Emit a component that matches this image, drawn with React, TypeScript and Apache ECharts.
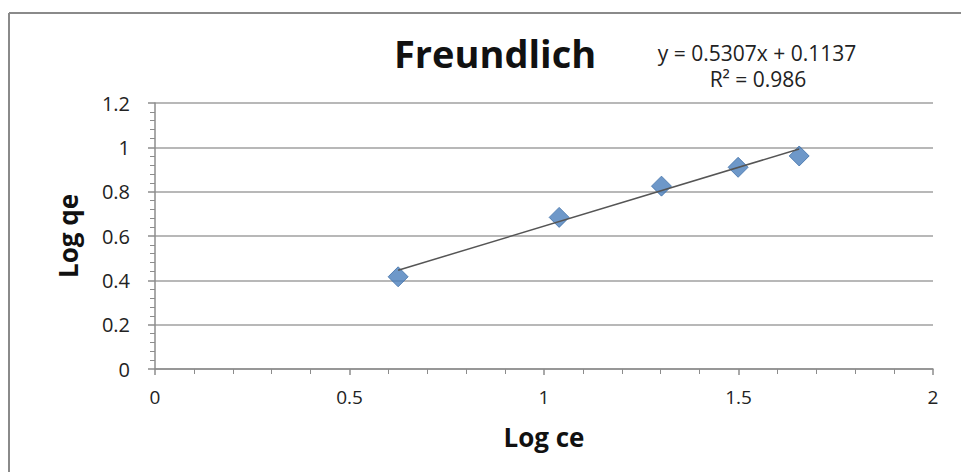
import React, { useEffect, useRef } from "react";
import * as echarts from "echarts";

// Freundlich isotherm: log Ce against log qe
const logCe: number[] = [0.625, 1.039, 1.302, 1.499, 1.656];
const logQe: number[] = [0.416, 0.684, 0.825, 0.91, 0.961];

// Linear trendline coefficients (as fitted)
const slope = 0.5307;
const intercept = 0.1137;
const rSquared = 0.986;

const xTicks = { min: 0, max: 2, interval: 0.5 };
const yTicks = { min: 0, max: 1.2, interval: 0.2 };

const FONT = "'Open Sans', 'Noto Sans', sans-serif";

export default function App() {
  const ref = useRef<HTMLDivElement>(null);

  useEffect(() => {
    if (!ref.current) return;
    const chart = echarts.init(ref.current, undefined, { renderer: "svg" });

    const xStart = Math.min(...logCe);
    const xEnd = Math.max(...logCe);
    const trend = [
      [xStart, slope * xStart + intercept],
      [xEnd, slope * xEnd + intercept],
    ];

    const axisGray = "#8c8c8c";

    chart.setOption({
      animation: false,
      backgroundColor: "#ffffff",
      grid: { left: 155, right: 28, top: 103, bottom: 103 },
      title: {
        text: "Freundlich",
        left: 490,
        top: 29,
        textAlign: "center",
        textStyle: { fontFamily: FONT, fontWeight: "bold", fontSize: 38, color: "#111" },
      },
      graphic: [
        {
          type: "line",
          shape: { x1: 9, y1: 13, x2: 961, y2: 13 },
          style: { stroke: "#8a8a8a", lineWidth: 2 },
        },
        {
          type: "line",
          shape: { x1: 9, y1: 13, x2: 9, y2: 472 },
          style: { stroke: "#8a8a8a", lineWidth: 2 },
        },
        {
          type: "text",
          x: 757,
          y: 53,
          style: {
            text: `y = ${slope}x + ${intercept}`,
            fontFamily: FONT,
            fontSize: 21,
            fill: "#222",
            textAlign: "center",
            textVerticalAlign: "middle",
          },
        },
        {
          type: "text",
          x: 758,
          y: 79,
          style: {
            text: `R² = ${rSquared}`,
            fontFamily: FONT,
            fontSize: 21,
            fill: "#222",
            textAlign: "center",
            textVerticalAlign: "middle",
          },
        },
      ],
      xAxis: {
        type: "value",
        min: xTicks.min,
        max: xTicks.max,
        interval: xTicks.interval,
        name: "Log ce",
        nameLocation: "middle",
        nameGap: 55,
        nameTextStyle: { fontFamily: FONT, fontWeight: "bold", fontSize: 26, color: "#111" },
        axisLine: { show: true, onZero: false, lineStyle: { color: axisGray, width: 1.5 } },
        axisTick: { show: true, length: 6, lineStyle: { color: axisGray, width: 1.5 } },
        minorTick: { show: true, splitNumber: 5, length: 5, lineStyle: { color: axisGray, width: 1 } },
        axisLabel: {
          fontFamily: FONT,
          fontSize: 19,
          color: "#222",
          margin: 18,
          formatter: (v: number) => String(v),
        },
        splitLine: { show: false },
      },
      yAxis: {
        type: "value",
        min: yTicks.min,
        max: yTicks.max,
        interval: yTicks.interval,
        name: "Log qe",
        nameLocation: "middle",
        nameGap: 74,
        nameRotate: 90,
        nameTextStyle: { fontFamily: FONT, fontWeight: "bold", fontSize: 26, color: "#111" },
        axisLine: { show: true, lineStyle: { color: axisGray, width: 1.5 } },
        axisTick: { show: true, length: 7, lineStyle: { color: axisGray, width: 1.5 } },
        minorTick: { show: true, splitNumber: 5, length: 5, lineStyle: { color: axisGray, width: 1 } },
        axisLabel: {
          fontFamily: FONT,
          fontSize: 20,
          color: "#222",
          margin: 25,
          formatter: (v: number) => String(Math.round(v * 10) / 10),
        },
        splitLine: { show: true, lineStyle: { color: "#a0a0a0", width: 1.5 } },
      },
      series: [
        {
          type: "line",
          data: trend,
          symbol: "none",
          lineStyle: { color: "#555555", width: 1.5 },
          silent: true,
          z: 3,
        },
        {
          type: "scatter",
          data: logCe.map((x, i) => [x, logQe[i]]),
          symbol: "diamond",
          symbolSize: [20, 20],
          itemStyle: { color: "#4a7ebb", borderColor: "#3f6fa8", borderWidth: 1 },
          z: 2,
        },
      ],
    });

    return () => chart.dispose();
  }, []);

  return <div ref={ref} style={{ width: 961, height: 472, position: "absolute", left: 0, top: 0 }} />;
}
